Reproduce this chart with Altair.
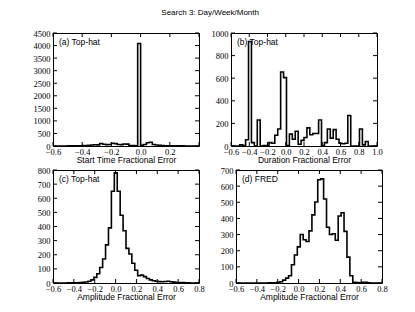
import altair as alt
import pandas as pd

TITLE = "Search 3: Day/Week/Month"

# ---- histogram data (bin start, bin width, counts) ----
a_start, a_width = -0.6, 0.02
a_counts = [0, 0, 0, 3, 3, 4, 5, 5, 6, 8,
            15, 20, 25, 40, 50, 45, 100, 70, 55, 60,
            110, 95, 60, 55, 80, 75, 20, 15, 10, 4080,
            30, 60, 130, 150, 60, 40, 25, 15, 10, 8,
            6, 5, 5, 4, 4, 3, 3, 0, 0, 0]

b_start, b_width = -0.6, 0.032
b_counts = [0, 0, 0, 10, 3, 55, 925, 30, 0, 230,
            0, 5, 5, 30, 25, 95, 150, 655, 605, 5,
            105, 60, 130, 15, 50, 75, 160, 100, 110, 110,
            230, 5, 30, 150, 70, 145, 60, 25, 20, 25,
            270, 0, 0, 0, 150, 10, 40, 0, 0, 0]

c_start, c_width = -0.6, 0.028
c_counts = [0, 0, 0, 0, 0, 1, 1, 2, 2, 3,
            5, 7, 12, 22, 40, 65, 110, 170, 270, 390,
            650, 780, 650, 480, 370, 245, 205, 140, 90, 52,
            56, 45, 32, 22, 16, 12, 10, 9, 11, 12,
            9, 6, 4, 3, 3, 2, 1, 0, 0, 0]

d_start, d_width = -0.6, 0.028
d_counts = [0, 0, 0, 0, 0, 0, 0, 0, 0, 0,
            0, 1, 1, 2, 4, 8, 18, 30, 45, 113,
            173, 224, 300, 268, 257, 323, 422, 502, 640, 645,
            520, 345, 300, 305, 265, 415, 435, 320, 160, 45,
            5, 3, 2, 4, 4, 1, 0, 0, 0, 0]

# ---- axes ----
a_xdom, a_xticks, a_xlabels = [-0.6, 0.4], [-0.6, -0.4, -0.2, 0.0, 0.2, 0.4], [-0.6, -0.4, -0.2, 0.0, 0.2]
b_xdom, b_xticks = [-0.6, 1.0], [-0.6, -0.4, -0.2, 0.0, 0.2, 0.4, 0.6, 0.8, 1.0]
cd_xdom, cd_xticks = [-0.6, 0.8], [-0.6, -0.4, -0.2, 0.0, 0.2, 0.4, 0.6, 0.8]
a_yticks = [0, 500, 1000, 1500, 2000, 2500, 3000, 3500, 4000, 4500]
b_yticks = [0, 200, 400, 600, 800, 1000]
c_yticks = [0, 100, 200, 300, 400, 500, 600, 700, 800]
d_yticks = [0, 100, 200, 300, 400, 500, 600, 700]

W, H = 146, 113
SERIF = "Liberation Serif"
SANS = "Liberation Sans"
FS = 8.5


def panel(counts, start, width, xdom, xticks, xlabels, yticks, xtitle, label):
    n = len(counts)
    edges = [start + width * i for i in range(n + 1)]
    xs, ys = [edges[0]], [0]
    for i, c in enumerate(counts):
        xs += [edges[i], edges[i + 1]]
        ys += [c, c]
    xs.append(edges[-1])
    ys.append(0)
    df = pd.DataFrame({"x": xs, "y": ys, "i": list(range(len(xs)))})

    xscale = alt.Scale(domain=xdom, nice=False, zero=False)
    yscale = alt.Scale(domain=[yticks[0], yticks[-1]], nice=False, zero=False)
    xaxis = alt.Axis(values=xlabels, tickSize=0, domain=False, grid=False,
                     labelExpr="replace(format(datum.value, '.1f'), '-', '\u2212')",
                     labelFont=SERIF, labelFontSize=FS, labelPadding=1,
                     labelFlush=False, labelOverlap=False,
                     titleFont=SANS, titleFontSize=FS, titleFontWeight="normal",
                     titlePadding=0, titleColor="black", labelColor="black")
    yaxis = alt.Axis(values=yticks, tickSize=0, domain=False, grid=False, format="d",
                     labelFont=SERIF, labelFontSize=FS, labelPadding=3,
                     labelFlush=False, labelOverlap=False, labelColor="black",
                     minExtent=20, maxExtent=20)
    X = lambda: alt.X("x:Q", scale=xscale, title=xtitle, axis=xaxis)
    Y = lambda: alt.Y("y:Q", scale=yscale, title=None, axis=yaxis)

    line = alt.Chart(df).mark_line(color="black", strokeWidth=1.6, clip=True).encode(
        x=X(), y=Y(), order="i:Q")
    xt = pd.DataFrame({"x": xticks})
    yt = pd.DataFrame({"y": yticks})
    tb = alt.Chart(xt).mark_rule(color="black", strokeWidth=1).encode(
        x=X(), y=alt.value(H), y2=alt.value(H - 4))
    tt = alt.Chart(xt).mark_rule(color="black", strokeWidth=1).encode(
        x=X(), y=alt.value(0), y2=alt.value(4))
    tl = alt.Chart(yt).mark_rule(color="black", strokeWidth=1).encode(
        y=Y(), x=alt.value(0), x2=alt.value(4))
    tr = alt.Chart(yt).mark_rule(color="black", strokeWidth=1).encode(
        y=Y(), x=alt.value(W), x2=alt.value(W - 4))
    txt = alt.Chart(pd.DataFrame({"t": [label]})).mark_text(
        align="left", baseline="top", font=SANS, fontSize=FS, color="black").encode(
        x=alt.value(6), y=alt.value(5), text="t:N")
    return alt.layer(line, tb, tt, tl, tr, txt).properties(width=W, height=H)


pa = panel(a_counts, a_start, a_width, a_xdom, a_xticks, a_xlabels, a_yticks,
           "Start Time Fractional Error", "(a) Top-hat")
pb = panel(b_counts, b_start, b_width, b_xdom, b_xticks, b_xticks, b_yticks,
           "Duration Fractional Error", "(b) Top-hat")
pc = panel(c_counts, c_start, c_width, cd_xdom, cd_xticks, cd_xticks, c_yticks,
           "Amplitude Fractional Error", "(c) Top-hat")
pd_ = panel(d_counts, d_start, d_width, cd_xdom, cd_xticks, cd_xticks, d_yticks,
            "Amplitude Fractional Error", "(d) FRED")

chart = alt.vconcat(
    alt.hconcat(pa, pb, spacing=10),
    alt.hconcat(pc, pd_, spacing=10),
    spacing=0,
).properties(
    title=alt.TitleParams(TITLE, font=SANS, fontSize=8, fontWeight="normal",
                          anchor="middle", offset=12, color="black"),
    padding={"left": 24, "top": 0, "right": 5, "bottom": 5},
).configure_view(stroke="black", strokeWidth=1)

chart.save("out.html", embed_options={"renderer": "svg", "actions": False})
